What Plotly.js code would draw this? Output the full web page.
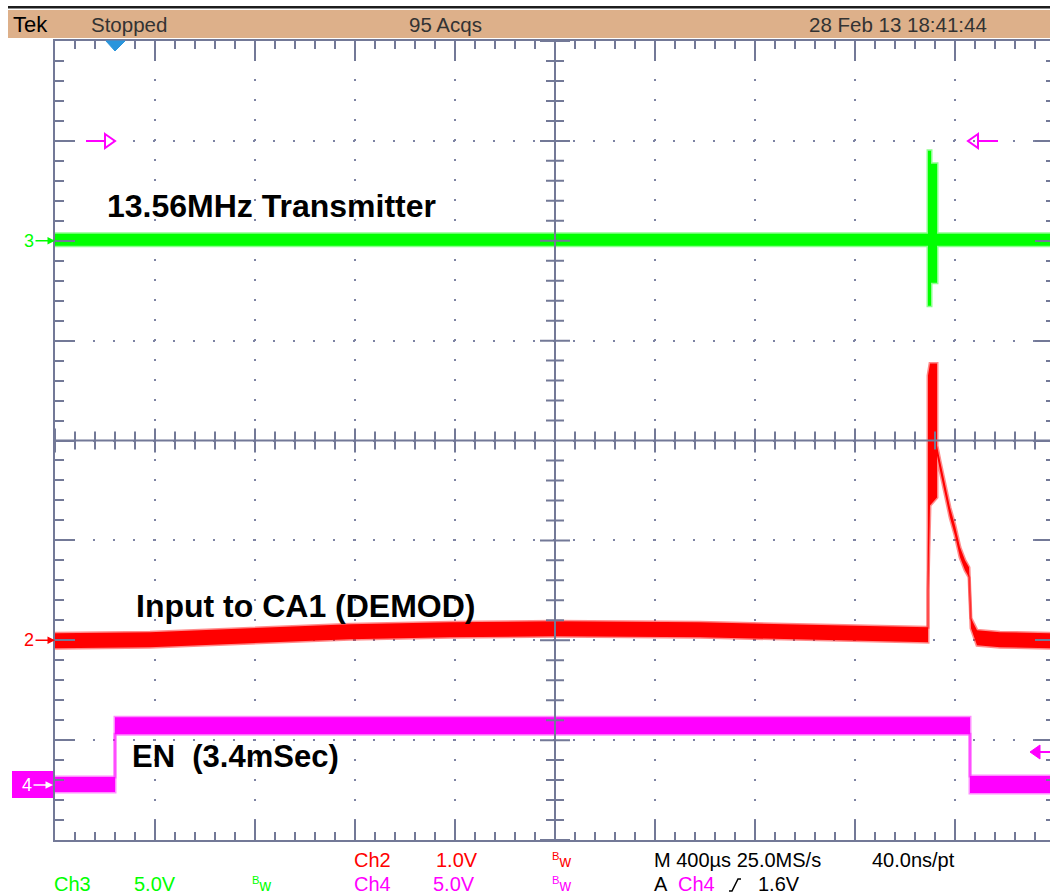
<!DOCTYPE html>
<html>
<head>
<meta charset="utf-8">
<script src="https://cdn.plot.ly/plotly-3.0.1.min.js"></script>
<style>
html,body{margin:0;padding:0;background:#fff;overflow:hidden;width:1050px;height:896px}
#chart{width:1060px;height:896px}
</style>
</head>
<body>
<div id="chart"></div>
<script>
// Time in ms relative to the trigger (M 400us/div); amplitude in screen divisions.
// Each channel is stored as its peak-detect envelope (max / min).
const ch3Time = [-0.24, 3.252, 3.252, 3.264, 3.264, 3.288, 3.288, 3.76];
const ch3Max  = [2.07, 2.07, 2.90, 2.90, 2.77, 2.77, 2.07, 2.07];
const ch3Min  = [1.95, 1.95, 1.35, 1.35, 1.58, 1.58, 1.95, 1.95];

const ch2Time = [-0.24, 0.14, 0.54, 0.94, 1.34, 1.76, 2.34, 2.94, 3.252, 3.252, 3.26, 3.288, 3.288,
                 3.3, 3.32, 3.34, 3.36, 3.38, 3.4, 3.416, 3.424, 3.448, 3.54, 3.76];
const ch2Max  = [-1.93, -1.92, -1.88, -1.84, -1.82, -1.81, -1.82, -1.85, -1.87, 0.65, 0.77, 0.77, -0.05,
                 -0.20, -0.43, -0.67, -0.85, -1.07, -1.20, -1.27, -1.78, -1.90, -1.92, -1.93];
const ch2Min  = [-2.08, -2.07, -2.03, -1.99, -1.97, -1.96, -1.97, -2.00, -2.02, -1.50, -0.65, -0.57, -0.15,
                 -0.30, -0.53, -0.77, -0.95, -1.17, -1.30, -1.37, -1.88, -2.05, -2.07, -2.08];

const ch4Time = [-0.24, 0, 0, 3.42, 3.42, 3.76];
const ch4Max  = [-3.37, -3.37, -2.77, -2.77, -3.36, -3.36];
const ch4Min  = [-3.52, -3.52, -2.94, -2.94, -3.53, -3.53];

// channel ground reference levels (divisions)
const channelIds     = ['3', '2', '4'];
const channelOffsets = [2, -2, -3.45];

const traceLabels = ['13.56MHz Transmitter', 'Input to CA1 (DEMOD)', 'EN\u00a0\u00a0(3.4mSec)'];
const headerText  = ['Tek', 'Stopped', '95 Acqs', '28 Feb 13 18:41:44'];

// ---------- styles / layout helpers ----------
const GREEN = '#00ff00', RED = '#ff0000', MAG = '#ff00ff';
const GRAT = '#737997', DOT = '#7d83a3';
const X0 = 55, PW = 1000, YB = 840, PH = 799;
const fx = p => (p - X0) / PW;
const fy = p => (YB - p) / PH;
const XR = [-0.24, 3.76], YR = [-4, 4];
const XDIV = 0.4, YDIV = 1, SUB = 5;            // graticule: 10 x 8 divisions, 5 subdivisions
const XC = (XR[0] + XR[1]) / 2, YC = 0;
const MS_PER_PX = (XR[1] - XR[0]) / PW, DIV_PER_PX = (YR[1] - YR[0]) / PH;
const SANS = 'Liberation Sans, Arial, sans-serif';

function envelope(t, lo, hi, color, fringe) {
  return [
    {x: t, y: lo, type: 'scatter', mode: 'lines', line: {color: fringe, width: 3}, hoverinfo: 'skip'},
    {x: t, y: hi, type: 'scatter', mode: 'lines', fill: 'tonexty', fillcolor: color,
     line: {color: fringe, width: 3}, hoverinfo: 'skip'}
  ];
}

const data = [].concat(
  envelope(ch4Time, ch4Min, ch4Max, MAG, 'rgba(255,0,255,0.45)'),
  envelope(ch2Time, ch2Min, ch2Max, RED, 'rgba(255,0,0,0.45)'),
  envelope(ch3Time, ch3Min, ch3Max, GREEN, 'rgba(0,255,0,0.45)')
);

function txt(text, x, y, color, size, bold) {
  return {xref: 'paper', yref: 'paper', x: fx(x), y: fy(y), xanchor: 'left', yanchor: 'middle',
    text: text, showarrow: false, font: {family: SANS, size: size, color: color, weight: bold ? 'bold' : 'normal'}};
}

const chanColors = [GREEN, RED, '#ffffff'];
const annotations = [
  // header bar
  txt(headerText[0], 11, 25, '#000', 22),
  txt(headerText[1], 89, 24, '#333', 20.5),
  txt(headerText[2], 407, 24, '#333', 20.5),
  txt(headerText[3], 807, 24, '#333', 20.5),
  // waveform labels
  txt(traceLabels[0], 105, 206, '#000', 32, true),
  txt(traceLabels[1], 134, 606, '#000', 32, true),
  txt(traceLabels[2], 130, 756, '#000', 31, true),
  // readouts row 1
  txt('Ch2', 352, 860, RED, 20),
  txt('1.0V', 434, 860, RED, 20),
  txt('<sup>B</sup>w', 550, 860, RED, 16),
  txt('M 400\u00b5s 25.0MS/s', 652, 860, '#000', 20),
  txt('40.0ns/pt', 870, 860, '#000', 20),
  // readouts row 2
  txt('Ch3', 52, 884, GREEN, 20),
  txt('5.0V', 132, 884, GREEN, 20),
  txt('<sup>B</sup>w', 250, 884, GREEN, 16),
  txt('Ch4', 352, 884, MAG, 20),
  txt('5.0V', 431, 884, MAG, 20),
  txt('<sup>B</sup>w', 550, 884, MAG, 16),
  txt('A', 652, 884, '#000', 20),
  txt('Ch4', 676, 884, MAG, 20),
  txt('1.6V', 756, 884, '#000', 20)
];

// channel ground markers
channelIds.forEach((id, i) => {
  annotations.push({
    xref: 'paper', yref: 'y', x: i === 2 ? fx(53) : 0, y: channelOffsets[i], text: id,
    showarrow: true, ax: -26, ay: 0, arrowhead: 2, arrowsize: 1, arrowwidth: 1.5,
    arrowcolor: chanColors[i], standoff: 0,
    font: {family: SANS, size: 18, color: chanColors[i]}
  });
});

function path(pts, close) {
  return 'M' + pts.map(p => fx(p[0]) + ',' + fy(p[1])).join('L') + (close ? 'Z' : '');
}

// centre crosshair with subdivision ticks (graticule, built from the division constants)
let vTicks = '', hTicks = '';
for (let k = 0; k <= 10 * SUB; k++) {
  if (k === 5 * SUB) continue;
  const t = XR[0] + k * XDIV / SUB;
  const half = (k % SUB === 0 ? 12 : 9) * DIV_PER_PX;
  vTicks += 'M' + t + ',' + (YC - half) + 'L' + t + ',' + (YC + half);
}
for (let k = 0; k <= 8 * SUB; k++) {
  if (k === 4 * SUB) continue;
  const v = YR[0] + k * YDIV / SUB;
  const half = (k % SUB === 0 ? 15 : 9) * MS_PER_PX;
  hTicks += 'M' + (XC - half) + ',' + v + 'L' + (XC + half) + ',' + v;
}

const P = {xref: 'paper', yref: 'paper'};
const D = {xref: 'x', yref: 'y'};
const shapes = [
  Object.assign({type: 'rect', x0: fx(8), x1: fx(1060), y0: fy(8.5), y1: fy(6), fillcolor: '#1e1e1e', line: {width: 0}}, P),
  Object.assign({type: 'rect', x0: fx(8), x1: fx(1060), y0: fy(38), y1: fy(10), fillcolor: '#ddb08a', line: {width: 0}}, P),
  Object.assign({type: 'rect', x0: fx(12), x1: fx(55), y0: fy(798), y1: fy(771), fillcolor: MAG, line: {width: 0}, layer: 'below'}, P),
  // centre crosshair
  Object.assign({type: 'line', x0: XC, x1: XC, y0: YR[0], y1: YR[1], line: {color: GRAT, width: 2}}, D),
  Object.assign({type: 'line', x0: XR[0], x1: XR[1], y0: YC, y1: YC, line: {color: GRAT, width: 2}}, D),
  Object.assign({type: 'path', path: vTicks, line: {color: GRAT, width: 2}}, D),
  Object.assign({type: 'path', path: hTicks, line: {color: GRAT, width: 2}}, D),
  // magenta level indicators
  Object.assign({type: 'path', path: path([[86, 141], [105, 141]]), line: {color: MAG, width: 2}}, P),
  Object.assign({type: 'path', path: path([[105, 134], [115, 141], [105, 148]], true), line: {color: MAG, width: 2}}, P),
  Object.assign({type: 'path', path: path([[978, 134], [968, 141], [978, 148]], true), line: {color: MAG, width: 2}}, P),
  Object.assign({type: 'path', path: path([[978, 141], [998, 141]]), line: {color: MAG, width: 2}}, P),
  Object.assign({type: 'path', path: path([[1040, 745], [1030, 752], [1040, 759]], true), fillcolor: MAG, line: {color: MAG, width: 1}}, P),
  Object.assign({type: 'path', path: path([[1040, 752], [1060, 752]]), line: {color: MAG, width: 2}}, P),
  // trigger slope symbol
  Object.assign({type: 'path', path: path([[729, 891], [732, 891], [738, 879], [741, 879]]), line: {color: '#000', width: 1.5}}, P),
  // trigger position marker (t = 0)
  {type: 'path', xref: 'x', yref: 'paper', path: 'M-0.036,1L0.04,1L0,' + (1 - 10 / PH) + 'Z', fillcolor: '#2a95dc', line: {color: '#2a95dc', width: 1}}
];

function mainAxis(range, dtick, tick0, minorDtick, minorLen) {
  return {
    range: range, tick0: tick0, dtick: dtick, showgrid: true, gridcolor: DOT, gridwidth: 2,
    griddash: '0px,18px,2px,0px', ticks: 'inside', ticklen: 20, tickwidth: 2, tickcolor: GRAT,
    showline: true, linecolor: GRAT, linewidth: 2, mirror: 'ticks', zeroline: false,
    showticklabels: false, fixedrange: true,
    minor: {tick0: tick0, dtick: minorDtick, ticks: 'inside', ticklen: minorLen, tickwidth: 2, tickcolor: GRAT, showgrid: false}
  };
}

const layout = {
  width: 1060, height: 896,
  margin: {l: 55, r: 5, t: 41, b: 56, pad: 0},
  paper_bgcolor: '#fff', plot_bgcolor: '#fff',
  showlegend: false,
  font: {family: SANS},
  xaxis: mainAxis(XR, XDIV, XR[0], XDIV / SUB, 8),
  yaxis: mainAxis(YR, YDIV, 0, YDIV / SUB, 9),
  annotations: annotations,
  shapes: shapes
};

Plotly.newPlot('chart', data, layout, {staticPlot: true, displayModeBar: false});
</script>
</body>
</html>
